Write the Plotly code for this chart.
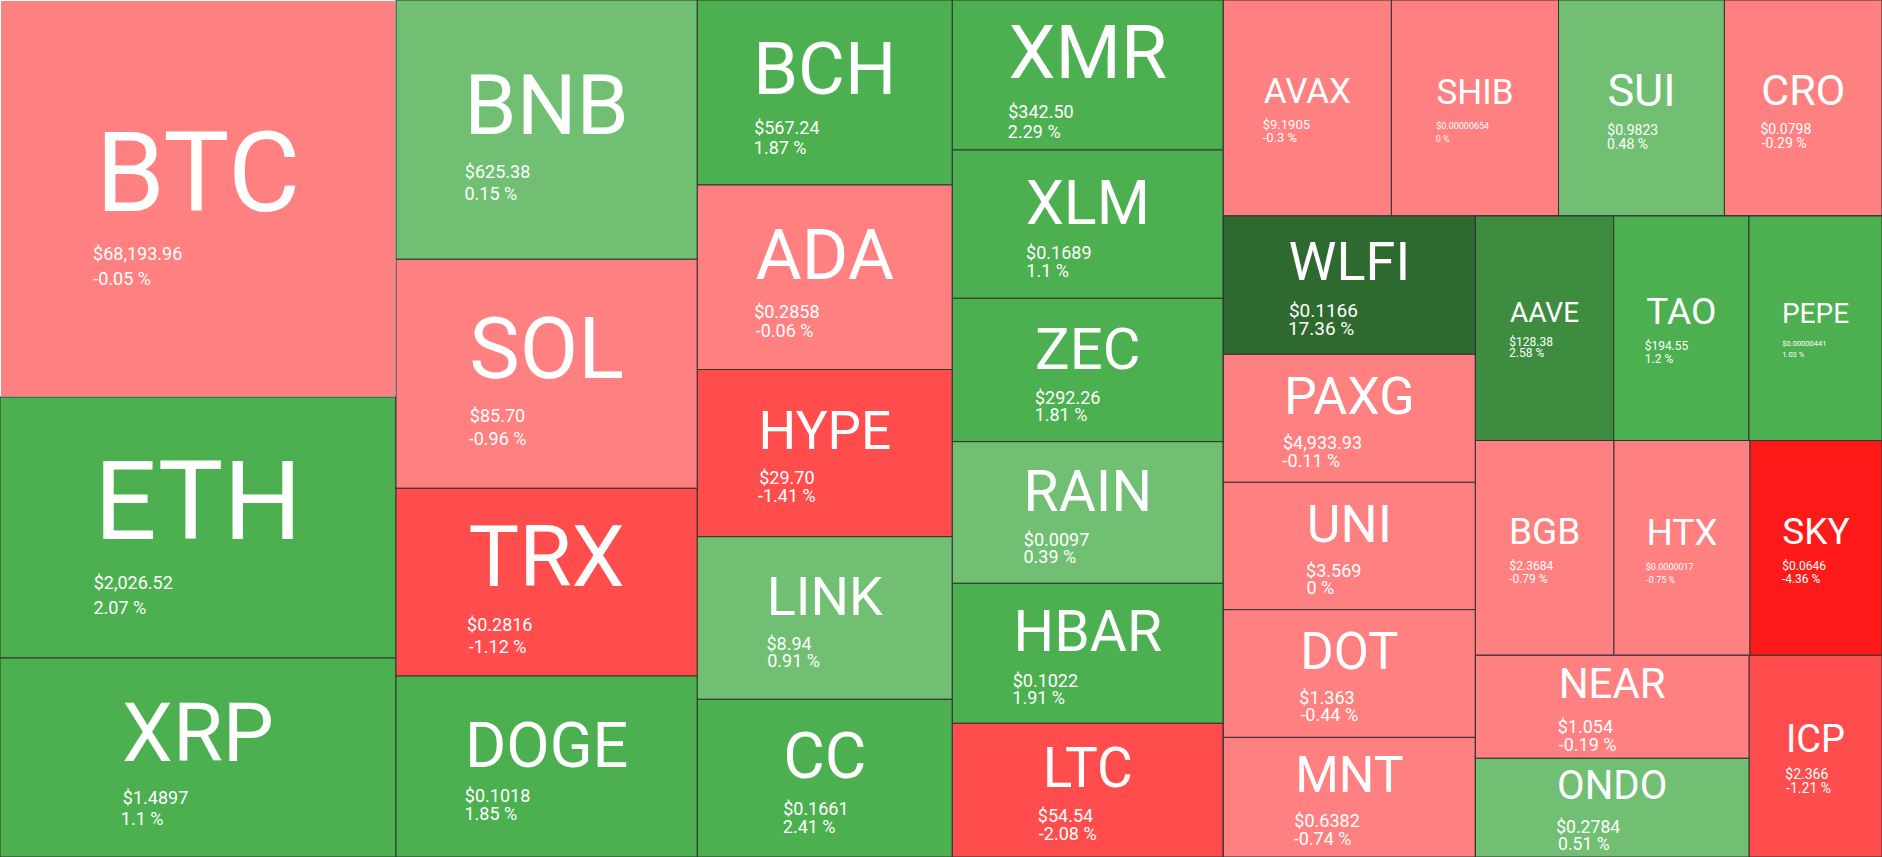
import plotly.graph_objects as go

# ---- data ----
symbols = ["BTC", "ETH", "XRP", "BNB", "SOL", "TRX", "DOGE", "BCH", "ADA", "HYPE",
           "LINK", "CC", "XMR", "XLM", "ZEC", "RAIN", "HBAR", "LTC", "AVAX", "SHIB",
           "SUI", "CRO", "WLFI", "PAXG", "UNI", "DOT", "MNT", "AAVE", "TAO", "PEPE",
           "BGB", "HTX", "SKY", "NEAR", "ONDO", "ICP"]
prices = ["$68,193.96", "$2,026.52", "$1.4897", "$625.38", "$85.70", "$0.2816", "$0.1018",
          "$567.24", "$0.2858", "$29.70", "$8.94", "$0.1661", "$342.50", "$0.1689",
          "$292.26", "$0.0097", "$0.1022", "$54.54", "$9.1905", "$0.00000654", "$0.9823",
          "$0.0798", "$0.1166", "$4,933.93", "$3.569", "$1.363", "$0.6382", "$128.38",
          "$194.55", "$0.00000441", "$2.3684", "$0.0000017", "$0.0646", "$1.054",
          "$0.2784", "$2.366"]
changes = [-0.05, 2.07, 1.1, 0.15, -0.96, -1.12, 1.85, 1.87, -0.06, -1.41,
           0.91, 2.41, 2.29, 1.1, 1.81, 0.39, 1.91, -2.08, -0.3, 0,
           0.48, -0.29, 17.36, -0.11, 0, -0.44, -0.74, 2.58, 1.2, 1.03,
           -0.79, -0.75, -4.36, -0.19, 0.51, -1.21]
# relative tile weights (area of each tile)
weights = [157212, 103356, 78804, 78127, 68998, 56554, 54535, 47175, 47048, 42636,
           41463, 40214, 40650, 40189, 38861, 38374, 37940, 36233, 36310, 36094,
           35834, 34042, 34865, 32269, 32118, 32193, 30151, 31048, 30375, 29859,
           29771, 29213, 28354, 28181, 27004, 26826]

# grouping of the tiles (structure only)
groups = ("all", [
    ("g1", ["BTC", "ETH", "XRP"]),
    ("g2", ["BNB", "SOL", "TRX", "DOGE"]),
    ("g3", ["BCH", "ADA", "HYPE", "LINK", "CC"]),
    ("g4", ["XMR", "XLM", "ZEC", "RAIN", "HBAR", "LTC"]),
    ("g5", [
        ("g5a", ["AVAX", "SHIB", "SUI", "CRO"]),
        ("g5b", [
            ("g5b1", ["WLFI", "PAXG", "UNI", "DOT", "MNT"]),
            ("g5b2", [
                ("r1", ["AAVE", "TAO", "PEPE"]),
                ("r2", ["BGB", "HTX", "SKY"]),
                ("r3", [("r3a", ["NEAR", "ONDO"]), "ICP"]),
            ]),
        ]),
    ]),
])

# ---- styles ----
label_px = {"BTC": 111, "ETH": 110, "XRP": 81, "BNB": 84, "SOL": 85, "TRX": 85, "DOGE": 63,
            "BCH": 72, "ADA": 71, "HYPE": 53, "LINK": 54, "CC": 64, "XMR": 75, "XLM": 61,
            "ZEC": 58, "RAIN": 57, "HBAR": 57, "LTC": 55, "AVAX": 35, "SHIB": 35, "SUI": 45,
            "CRO": 43, "WLFI": 54, "PAXG": 52, "UNI": 52, "DOT": 51, "MNT": 50, "AAVE": 28,
            "TAO": 37, "PEPE": 28, "BGB": 37, "HTX": 37, "SKY": 37, "NEAR": 42, "ONDO": 41,
            "ICP": 38}
price_px = {"AVAX": 13, "SHIB": 9, "SUI": 14, "CRO": 14, "WLFI": 19, "AAVE": 12, "TAO": 12,
            "PEPE": 7.5, "BGB": 12, "HTX": 9, "SKY": 12, "ICP": 14}

# approximate Roboto advance widths (units per 2048 em) used to left-align the lines
ADV = {"$": 1150, ",": 402, ".": 539, "%": 1465, "-": 565, " ": 507,
       "A": 1336, "B": 1275, "C": 1333, "D": 1343, "E": 1164, "F": 1132, "G": 1395,
       "H": 1460, "I": 557, "K": 1284, "L": 1102, "M": 1788, "N": 1460, "O": 1408,
       "P": 1292, "R": 1262, "S": 1232, "T": 1236, "U": 1327, "V": 1303, "W": 1775,
       "X": 1283, "Y": 1229, "Z": 1225}
NBSP = "\u00a0"


def adv(s, size):
    return size * sum(ADV.get(ch, 1150) for ch in s) / 2048.0


def pad_to(s, size, width):
    n = int(round((width - adv(s, size)) / (size * 507 / 2048.0)))
    return s + NBSP * max(0, n)


def tile_color(c):
    if c >= 5:
        return "#2e6930"
    if c >= 2.5:
        return "#3d8c40"
    if c >= 1:
        return "#4caf50"
    if c > 0:
        return "#70bf73"
    if c > -1:
        return "#ff8080"
    if c > -2.5:
        return "#ff4d4d"
    return "#ff1a1a"


info = {s: (p, c, w) for s, p, c, w in zip(symbols, prices, changes, weights)}

ids, parents, values, colors, texts, sizes = [], [], [], [], [], []


def add(node, parent):
    if isinstance(node, str):
        p, c, w = info[node]
        L = label_px[node]
        ps = price_px.get(node, 18)
        base = max(0.75 * ps, min(19, (0.387 * L + 11.5) / 2.6))
        wl = adv(node, L)
        pct = f"{c:g} %"
        ids.append(node)
        parents.append(parent)
        values.append(w)
        colors.append(tile_color(c))
        texts.append(
            f"<span style='font-size:{L}px'>{node}</span><br><br>"
            f"<span style='font-size:{ps}px'>{pad_to(p, ps, wl)}</span><br>"
            f"<span style='font-size:{ps}px'>{pad_to(pct, ps, wl)}</span>"
        )
        sizes.append(base)
    else:
        name, children = node
        ids.append(name)
        parents.append(parent)
        values.append(0)
        colors.append("#333333")
        texts.append("")
        sizes.append(12)
        for ch in children:
            add(ch, name)


add(groups, "")

fig = go.Figure(go.Treemap(
    ids=ids,
    labels=ids,
    parents=parents,
    values=values,
    branchvalues="remainder",
    sort=False,
    text=texts,
    textinfo="text",
    textposition="middle center",
    textfont=dict(family="Roboto", color="white", size=sizes),
    marker=dict(colors=colors, line=dict(color="#333333", width=1),
                pad=dict(t=0, l=0, r=0, b=0)),
    tiling=dict(packing="slice-dice", pad=0),
    pathbar=dict(visible=False),
    hoverinfo="skip",
))

fig.update_layout(
    width=1882, height=857,
    margin=dict(l=0, r=0, t=0, b=0),
    paper_bgcolor="#333333",
)

fig.write_html("out.html", config={"displayModeBar": False},
               post_script="document.body.style.margin='0';document.body.style.overflow='hidden';")
